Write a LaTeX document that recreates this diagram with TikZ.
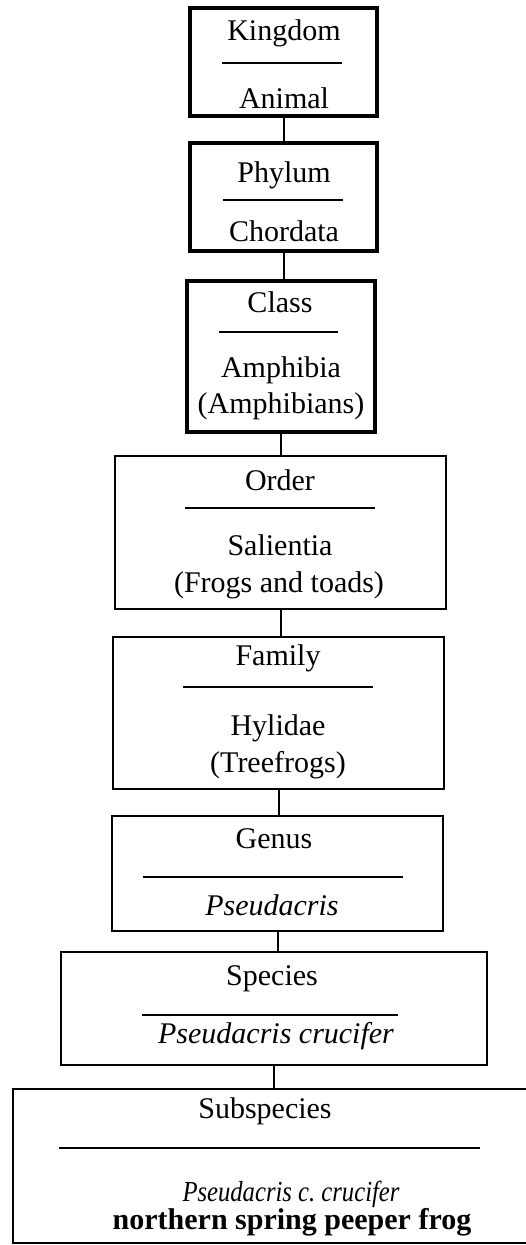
\documentclass[tikz,border=0pt]{standalone}
\usepackage{fontspec}
\setmainfont{Liberation Serif}

\tikzset{
  rankbox/.style={draw,rectangle,line width=4.5pt,inner sep=0pt},
  lowbox/.style={draw,rectangle,line width=1.8pt,inner sep=0pt},
  ranktext/.style={anchor=base,inner sep=0pt,font=\fontsize{30}{36}\selectfont},
  splitline/.style={line width=1.3pt},
  linkline/.style={line width=2pt}
}

\begin{document}
\begin{tikzpicture}[x=1pt,y=-1pt]
\useasboundingbox (0,0) rectangle (526,1245);

% Kingdom
\node[rankbox,minimum width=187pt,minimum height=108pt] (kingdom) at (283.5,62) {};
\node[ranktext] (kingdomname) at (284,40) {Kingdom};
\draw[splitline] (222,63) -- (342,63);
\node[ranktext] (kingdomval) at (284,108) {Animal};

% Phylum
\node[rankbox,minimum width=187pt,minimum height=108pt] (phylum) at (283.5,197) {};
\node[ranktext] (phylumname) at (284,182) {Phylum};
\draw[splitline] (223,200) -- (343,200);
\node[ranktext] (phylumval) at (284,241) {Chordata};

% Class
\node[rankbox,minimum width=188pt,minimum height=151pt] (class) at (281,356.5) {};
\node[ranktext] (classname) at (280,312) {Class};
\draw[splitline] (219,332) -- (338,332);
\node[ranktext] (classval) at (281,377) {Amphibia};
\node[ranktext] (classcommon) at (281,413) {(Amphibians)};

% Order
\node[lowbox,minimum width=331pt,minimum height=153pt] (order) at (280.5,532.5) {};
\node[ranktext] (ordername) at (280,490) {Order};
\draw[splitline] (185,508) -- (375,508);
\node[ranktext] (orderval) at (280,555) {Salientia};
\node[ranktext] (ordercommon) at (279,592) {(Frogs and toads)};

% Family
\node[lowbox,minimum width=331pt,minimum height=152pt] (family) at (278.5,713) {};
\node[ranktext] (familyname) at (278,665) {Family};
\draw[splitline] (183,687) -- (373,687);
\node[ranktext] (familyval) at (278,735) {Hylidae};
\node[ranktext] (familycommon) at (278,772) {(Treefrogs)};

% Genus
\node[lowbox,minimum width=331pt,minimum height=115pt] (genus) at (277.5,873.5) {};
\node[ranktext] (genusname) at (274,848) {Genus};
\draw[splitline] (143,877) -- (403,877);
\node[ranktext,font=\fontsize{30}{36}\selectfont\itshape] (genusval) at (272,915) {Pseudacris};

% Species
\node[lowbox,minimum width=426pt,minimum height=113pt] (species) at (274,1008.5) {};
\node[ranktext] (speciesname) at (272,985) {Species};
\draw[splitline] (142,1015) -- (398,1015);
\node[ranktext,font=\fontsize{30}{36}\selectfont\itshape] (speciesval) at (276,1043) {Pseudacris crucifer};

% Subspecies (right side runs off the page)
\node[lowbox,minimum width=524pt,minimum height=154pt] (subspecies) at (275,1166) {};
\node[ranktext] (subspeciesname) at (265,1118) {Subspecies};
\draw[splitline] (59,1148) -- (480,1148);
\node[ranktext,font=\fontsize{29}{34}\selectfont\itshape\addfontfeature{FakeStretch=0.85}] (subspeciesval) at (291,1201) {Pseudacris c.\ crucifer};
\node[ranktext,font=\fontsize{30}{36}\selectfont\bfseries] (commonname) at (292,1229) {northern spring peeper frog};

% links between ranks
\draw[linkline] (kingdom.south) -- (kingdom.south |- phylum.north);
\draw[linkline] (phylum.south) -- (phylum.south |- class.north);
\draw[linkline] (class.south) -- (class.south |- order.north);
\draw[linkline] (order.south) -- (order.south |- family.north);
\draw[linkline] (family.south) -- (family.south |- genus.north);
\draw[linkline] (genus.south) -- (genus.south |- species.north);
\draw[linkline] (species.south) -- (species.south |- subspecies.north);
\end{tikzpicture}
\end{document}
